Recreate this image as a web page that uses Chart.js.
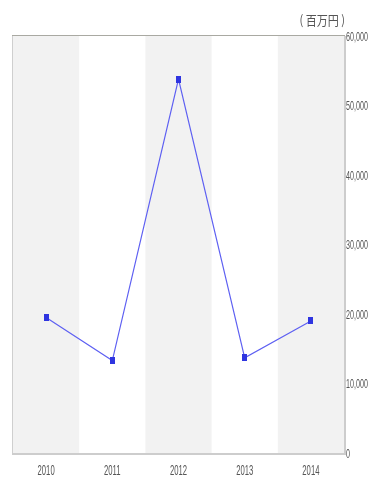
<!DOCTYPE html>
<html>
<head>
<meta charset="utf-8">
<script src="https://cdn.jsdelivr.net/npm/chart.js@4/dist/chart.umd.min.js"></script>
<style>
  html, body { margin: 0; padding: 0; background: #fff; }
  #wrap { width: 371px; height: 483px; }
</style>
</head>
<body>
<div id="wrap"><canvas id="myChart" width="371" height="483"></canvas></div>
<script>
const years = ['2010', '2011', '2012', '2013', '2014'];
const amounts = [19500, 13300, 53800, 13700, 19000];
const yTicks = [0, 10000, 20000, 30000, 40000, 50000, 60000];
const unitLabel = '( 百万円 )';

const FONT = "'Liberation Sans', 'DejaVu Sans', sans-serif";
const JP_FONT = "'Noto Sans CJK JP', sans-serif";

// small upright marker for the points
const marker = document.createElement('canvas');
marker.width = 5;
marker.height = 7;
let mctx = marker.getContext('2d');
mctx.fillStyle = '#2f35e0';
mctx.fillRect(0, 0, 5, 7);

// squeezed text, like the narrow lettering of the labels
function narrowText(ctx, text, x, y, sx, align) {
  ctx.save();
  ctx.translate(x, y);
  ctx.scale(sx, 1);
  ctx.textAlign = align;
  ctx.fillText(text, 0, 0);
  ctx.restore();
}

// grey / white columns behind the line
const bands = {
  id: 'bands',
  beforeDatasetsDraw(chart) {
    const { ctx, chartArea, scales } = chart;
    const xs = scales.x;
    const w = (chartArea.right - chartArea.left) / years.length;
    ctx.save();
    years.forEach((y, i) => {
      if (i % 2 == 0) {
        const cx = xs.getPixelForValue(i);
        ctx.fillStyle = '#f2f2f2';
        ctx.fillRect(cx - w / 2, chartArea.top, w, chartArea.bottom - chartArea.top);
      }
    });
    ctx.restore();
  },
  // frame, tick labels and unit label
  afterDraw(chart) {
    const { ctx, chartArea, scales } = chart;
    const { left, right, top, bottom } = chartArea;
    ctx.save();
    ctx.lineWidth = 1;
    ctx.strokeStyle = '#cfcfcf';
    ctx.beginPath();
    ctx.moveTo(left - 0.5, top); ctx.lineTo(left - 0.5, bottom);
    ctx.stroke();
    ctx.strokeStyle = '#a9a9a2';
    ctx.beginPath();
    ctx.moveTo(left - 1, top - 0.5); ctx.lineTo(right + 1, top - 0.5);
    ctx.stroke();
    ctx.lineWidth = 2;
    ctx.strokeStyle = '#cdcdcd';
    ctx.beginPath();
    ctx.moveTo(left - 1, bottom + 1); ctx.lineTo(right + 1, bottom + 1);
    ctx.moveTo(right + 1, top); ctx.lineTo(right + 1, bottom + 2);
    ctx.stroke();

    ctx.fillStyle = '#555';
    ctx.textBaseline = 'middle';
    ctx.font = '13px ' + FONT;
    yTicks.forEach(v => {
      const py = scales.y.getPixelForValue(v);
      narrowText(ctx, v.toLocaleString('en-US'), right + 2, py + 1, 0.55, 'left');
    });
    ctx.font = '14px ' + FONT;
    years.forEach((label, i) => {
      const px = scales.x.getPixelForValue(i);
      narrowText(ctx, label, px, bottom + 18, 0.55, 'center');
    });
    ctx.font = '13px ' + JP_FONT;
    narrowText(ctx, unitLabel, right + 1, 20, 0.85, 'right');
    ctx.restore();
  }
};

const data = {
  labels: years,
  datasets: [{
    data: amounts,
    borderColor: '#5e60f2',
    borderWidth: 1.2,
    pointStyle: marker,
    pointRadius: 3,
    tension: 0
  }]
};

const config = {
  type: 'line',
  data,
  plugins: [bands],
  options: {
    responsive: false,
    animation: false,
    layout: { padding: { left: 13, top: 36, right: 27, bottom: 30 } },
    plugins: { legend: { display: false }, tooltip: { enabled: false } },
    scales: {
      x: {
        offset: true,
        grid: { display: false, drawTicks: false },
        border: { display: false },
        ticks: { display: false }
      },
      y: {
        position: 'right',
        min: 0,
        max: 60000,
        afterBuildTicks(axis) { axis.ticks = yTicks.map(v => ({ value: v })); },
        grid: { display: false, drawTicks: false },
        border: { display: false },
        ticks: { display: false }
      }
    }
  }
};

let myChart = new Chart(document.getElementById('myChart'), config);
</script>
</body>
</html>
